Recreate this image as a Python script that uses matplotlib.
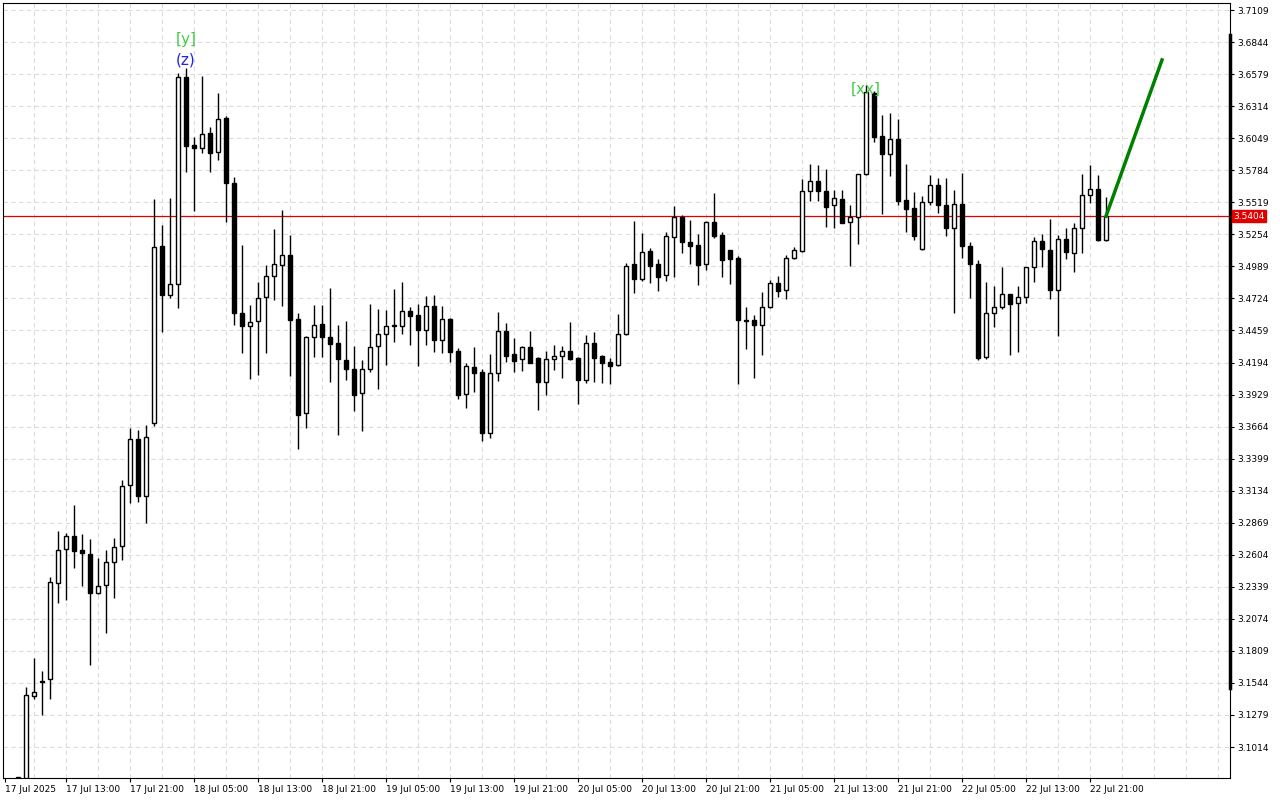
import matplotlib
matplotlib.use("Agg")
import matplotlib.pyplot as plt
import numpy as np

# hourly candles, 17 Jul 07:00 .. 22 Jul 23:00
opens = [3.0758, 3.0758, 3.1436, 3.1560, 3.1577, 3.2371, 3.2652, 3.2759, 3.2643, 3.2610,
         3.2288, 3.2354, 3.2544, 3.2677, 3.3181, 3.3561, 3.3090, 3.3694, 3.5158, 3.4752,
         3.4843, 3.6555, 3.5993, 3.5968, 3.6092, 3.5935, 3.6216, 3.5679, 3.4603, 3.4496,
         3.4537, 3.4736, 3.4910, 3.5000, 3.5083, 3.4554, 3.3777, 3.4405, 3.4513, 3.4405,
         3.4355, 3.4215, 3.4140, 3.3942, 3.4140, 3.4331, 3.4430, 3.4496, 3.4496, 3.4620,
         3.4587, 3.4463, 3.4661, 3.4380, 3.4554, 3.4289, 3.3934, 3.4157, 3.4116, 3.3611,
         3.4107, 3.4455, 3.4264, 3.4223, 3.4322, 3.4231, 3.4033, 3.4223, 3.4248, 3.4289,
         3.4231, 3.4049, 3.4355, 3.4248, 3.4198, 3.4174, 3.4430, 3.5009, 3.4885, 3.5116,
         3.5009, 3.4918, 3.5232, 3.5397, 3.5191, 3.5166, 3.5009, 3.5356, 3.5249, 3.5125,
         3.5058, 3.4546, 3.4546, 3.4504, 3.4653, 3.4852, 3.4794, 3.5058, 3.5116, 3.5612,
         3.5695, 3.5612, 3.5497, 3.5546, 3.5356, 3.5397, 3.5753, 3.6423, 3.6067, 3.5918,
         3.6042, 3.5538, 3.5472, 3.5133, 3.5521, 3.5662, 3.5497, 3.5306, 3.5505, 3.5158,
         3.5009, 3.4240, 3.4603, 3.4653, 3.4761, 3.4686, 3.4736, 3.4984, 3.5199, 3.5125,
         3.4794, 3.5215, 3.5100, 3.5306, 3.5579, 3.5629, 3.5207]
highs = [3.0766, 3.1511, 3.1750, 3.1643, 3.2420, 3.2801, 3.2784, 3.3016, 3.2776, 3.2735,
         3.2577, 3.2643, 3.2743, 3.3222, 3.3652, 3.3636, 3.3677, 3.5546, 3.5331, 3.5555,
         3.6588, 3.6630, 3.6059, 3.6563, 3.6142, 3.6423, 3.6233, 3.5728, 3.5166, 3.4670,
         3.4860, 3.5000, 3.5298, 3.5455, 3.5249, 3.4603, 3.4413, 3.4670, 3.4670, 3.4810,
         3.4504, 3.4537, 3.4331, 3.4215, 3.4678, 3.4637, 3.4628, 3.4802, 3.4860, 3.4653,
         3.4678, 3.4744, 3.4752, 3.4661, 3.4564, 3.4314, 3.4190, 3.4322, 3.4140, 3.4264,
         3.4612, 3.4521, 3.4397, 3.4331, 3.4455, 3.4240, 3.4289, 3.4339, 3.4331, 3.4529,
         3.4240, 3.4422, 3.4446, 3.4256, 3.4231, 3.4595, 3.5017, 3.5364, 3.5265, 3.5141,
         3.5050, 3.5273, 3.5488, 3.5414, 3.5373, 3.5257, 3.5364, 3.5596, 3.5273, 3.5125,
         3.5075, 3.4653, 3.4587, 3.4777, 3.4876, 3.4910, 3.5083, 3.5149, 3.5711, 3.5836,
         3.5827, 3.5794, 3.5621, 3.5621, 3.5497, 3.5753, 3.6489, 3.6439, 3.6241, 3.6257,
         3.6208, 3.5836, 3.5604, 3.5571, 3.5745, 3.5720, 3.5720, 3.5621, 3.5761, 3.5191,
         3.5042, 3.4860, 3.4827, 3.4984, 3.4761, 3.4827, 3.4984, 3.5232, 3.5257, 3.5381,
         3.5249, 3.5306, 3.5348, 3.5753, 3.5827, 3.5745, 3.5563]
lows = [3.0750, 3.0750, 3.1411, 3.1279, 3.1411, 3.2205, 3.2230, 3.2495, 3.2346, 3.1692,
        3.2280, 3.1957, 3.2247, 3.2561, 3.3032, 3.3040, 3.2867, 3.3669, 3.4446, 3.4728,
        3.4645, 3.5770, 3.5447, 3.5927, 3.5770, 3.5869, 3.5356, 3.4504, 3.4273, 3.4058,
        3.4091, 3.4273, 3.4711, 3.4661, 3.4083, 3.3479, 3.3652, 3.4240, 3.4240, 3.4033,
        3.3595, 3.4049, 3.3793, 3.3628, 3.4116, 3.3975, 3.4174, 3.4364, 3.4430, 3.4339,
        3.4165, 3.4339, 3.4281, 3.4273, 3.4198, 3.3892, 3.3818, 3.3950, 3.3545, 3.3570,
        3.4041, 3.4198, 3.4116, 3.4124, 3.4190, 3.3801, 3.3925, 3.4132, 3.4066, 3.4215,
        3.3851, 3.4025, 3.4033, 3.4025, 3.4016, 3.4165, 3.4422, 3.4769, 3.4868, 3.4852,
        3.4785, 3.4868, 3.4901, 3.5100, 3.5009, 3.4835, 3.4959, 3.5224, 3.4901, 3.4844,
        3.4016, 3.4306, 3.4066, 3.4256, 3.4645, 3.4736, 3.4719, 3.5050, 3.5108, 3.5530,
        3.5530, 3.5315, 3.5306, 3.5348, 3.4992, 3.5174, 3.5745, 3.6018, 3.5422, 3.5737,
        3.5497, 3.5273, 3.5207, 3.5125, 3.5497, 3.5430, 3.5240, 3.4603, 3.5058, 3.4728,
        3.4215, 3.4223, 3.4488, 3.4637, 3.4256, 3.4281, 3.4686, 3.4860, 3.4984, 3.4719,
        3.4413, 3.5050, 3.4942, 3.5100, 3.5513, 3.5199, 3.5199]
closes = [3.0758, 3.1444, 3.1469, 3.1555, 3.2379, 3.2643, 3.2759, 3.2635, 3.2619, 3.2288,
          3.2346, 3.2544, 3.2668, 3.3173, 3.3561, 3.3090, 3.3578, 3.5149, 3.4752, 3.4843,
          3.6555, 3.5985, 3.5968, 3.6084, 3.5927, 3.6208, 3.5679, 3.4603, 3.4496, 3.4529,
          3.4728, 3.4910, 3.5009, 3.5083, 3.4546, 3.3760, 3.4405, 3.4504, 3.4405, 3.4347,
          3.4223, 3.4140, 3.3925, 3.4140, 3.4322, 3.4430, 3.4496, 3.4500, 3.4620, 3.4579,
          3.4463, 3.4661, 3.4380, 3.4554, 3.4281, 3.3925, 3.4165, 3.4107, 3.3611, 3.4107,
          3.4455, 3.4248, 3.4207, 3.4322, 3.4190, 3.4033, 3.4223, 3.4248, 3.4289, 3.4223,
          3.4049, 3.4355, 3.4231, 3.4190, 3.4165, 3.4430, 3.4992, 3.4885, 3.5108, 3.4992,
          3.4901, 3.5240, 3.5397, 3.5191, 3.5158, 3.5000, 3.5356, 3.5240, 3.5042, 3.5050,
          3.4546, 3.4537, 3.4504, 3.4653, 3.4852, 3.4785, 3.5058, 3.5125, 3.5612, 3.5695,
          3.5612, 3.5480, 3.5555, 3.5348, 3.5397, 3.5753, 3.6431, 3.6059, 3.5918, 3.6042,
          3.5530, 3.5464, 3.5240, 3.5521, 3.5662, 3.5497, 3.5306, 3.5505, 3.5158, 3.5009,
          3.4231, 3.4603, 3.4653, 3.4761, 3.4678, 3.4736, 3.4984, 3.5199, 3.5133, 3.4794,
          3.5215, 3.5108, 3.5306, 3.5579, 3.5629, 3.5207, 3.5404]

last_price = 3.5404
proj_end_bar = 143
proj_end_price = 3.6696

price_ticks = [3.7109, 3.6844, 3.6579, 3.6314, 3.6049, 3.5784, 3.5519, 3.5254, 3.4989, 3.4724,
               3.4459, 3.4194, 3.3929, 3.3664, 3.3399, 3.3134, 3.2869, 3.2604, 3.2339, 3.2074,
               3.1809, 3.1544, 3.1279, 3.1014]
time_labels = ["17 Jul 2025", "17 Jul 13:00", "17 Jul 21:00", "18 Jul 05:00", "18 Jul 13:00",
               "18 Jul 21:00", "19 Jul 05:00", "19 Jul 13:00", "19 Jul 21:00", "20 Jul 05:00",
               "20 Jul 13:00", "20 Jul 21:00", "21 Jul 05:00", "21 Jul 13:00", "21 Jul 21:00",
               "22 Jul 05:00", "22 Jul 13:00", "22 Jul 21:00"]

o = np.array(opens); h = np.array(highs); l = np.array(lows); c = np.array(closes)
idx = np.arange(len(o))

fig = plt.figure(figsize=(12.8, 8), dpi=100)
ax = fig.add_axes([3 / 1280, 22 / 800, 1227 / 1280, 775 / 800])

# grid
for yt in price_ticks:
    ax.axhline(yt, color="#dcdcdc", lw=0.8, ls=(0, (4, 3)), zorder=0)
for xg in np.arange(-2, 152, 4):
    ax.axvline(xg, color="#dcdcdc", lw=0.8, ls=(0, (4, 3)), zorder=0)

# candles
ax.vlines(idx, l, h, color="black", lw=1, zorder=2)
up = c >= o
body_lo = np.minimum(o, c)
body_h = np.maximum(np.abs(c - o), 0.0006)
ax.bar(idx[up], body_h[up], bottom=body_lo[up], width=0.62, color="white",
       edgecolor="black", lw=1, zorder=3)
ax.bar(idx[~up], body_h[~up], bottom=body_lo[~up], width=0.62, color="black",
       edgecolor="black", lw=1, zorder=3)

# last price line
ax.axhline(last_price, color="#e00000", lw=0.9, zorder=1)
ax.text(1.003, last_price, f"{last_price:.4f}", transform=ax.get_yaxis_transform(),
        ha="left", va="center", fontsize=6.5, color="white",
        bbox=dict(boxstyle="square,pad=0.15", fc="#e00000", ec="#e00000"), clip_on=False)

# projection
ax.plot([idx[-1], proj_end_bar], [closes[-1], proj_end_price], color="#008000", lw=2.5, zorder=4)

# wave labels
ax.text(21, 3.6862, "[y]", color="#44cc44", fontsize=11, ha="center", va="center")
ax.text(21, 3.6696, "(z)", color="#2222ee", fontsize=11, ha="center", va="center")
ax.text(106, 3.6456, "[xx]", color="#44cc44", fontsize=11, ha="center", va="center")

ax.set_xlim(-1.875, 151.5)
ax.set_ylim(3.0758, 3.7167)

ax.yaxis.tick_right()
ax.set_yticks(price_ticks)
ax.set_yticklabels([f"{t:.4f}" for t in price_ticks], fontsize=6.5)
ax.set_xticks([-1.6] + [6 + 8 * i for i in range(len(time_labels) - 1)])
ax.set_xticklabels(time_labels, fontsize=6.5, ha="left")
ax.tick_params(axis="both", length=3, width=0.8, pad=2)
for sp in ax.spines.values():
    sp.set_linewidth(0.8)

# visible range marker on right scale
ax.plot([1.0, 1.0], [3.15, 3.69], transform=ax.get_yaxis_transform(), color="black",
        lw=2.5, clip_on=False)

fig.savefig("out.png")
